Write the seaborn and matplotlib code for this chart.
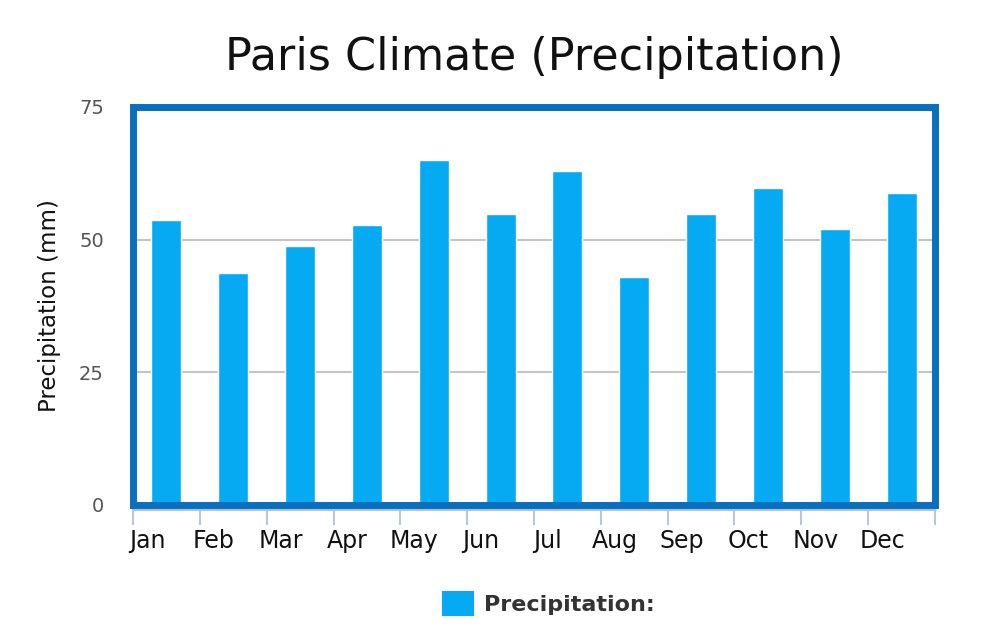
import matplotlib
matplotlib.use("Agg")
import matplotlib.pyplot as plt
import seaborn as sns
import pandas as pd
from matplotlib.patches import Rectangle, Patch

months = ["Jan", "Feb", "Mar", "Apr", "May", "Jun", "Jul", "Aug", "Sep", "Oct", "Nov", "Dec"]
precip = [53.7, 43.7, 48.8, 52.8, 65.0, 54.8, 63.0, 42.9, 54.8, 59.8, 52.0, 58.7]
yticks = [0, 25, 50, 75]

df = pd.DataFrame({"Month": months, "Precipitation": precip})

sns.set_theme(style="white")
plt.rcParams["font.family"] = ["DejaVu Sans"]

fig = plt.figure(figsize=(10, 6.44), dpi=100)
ax = fig.add_axes([0.133, 0.216, 0.802, 0.618])

bar_color = "#05aaf3"
sns.barplot(data=df, x="Month", y="Precipitation", color=bar_color, saturation=1,
            width=0.45, ax=ax, zorder=2)

n = len(months)
ax.set_xlim(-0.5, n - 0.5)
ax.set_ylim(0, 75)
ax.set_yticks(yticks)
ax.set_yticklabels([str(t) for t in yticks], color="#555555", fontsize=14)
ax.tick_params(axis="y", length=0, pad=21)

# gridlines
for t in yticks[1:-1]:
    ax.axhline(t, color="#c4c4c4", lw=1.5, zorder=1)

# spines
for s in ["left", "right", "top"]:
    ax.spines[s].set_visible(False)
ax.spines["bottom"].set_position(("outward", 4))
ax.spines["bottom"].set_color("#a9c4dc")
ax.spines["bottom"].set_linewidth(1.5)

# x ticks at boundaries, labels as minor ticks
ax.set_xticks([i - 0.5 for i in range(n + 1)])
ax.set_xticklabels([""] * (n + 1))
ax.tick_params(axis="x", which="major", length=11, width=1.5, color="#b8c8d8", direction="out", bottom=True)
ax.set_xticks([i - 0.29 for i in range(n)], minor=True)
ax.set_xticklabels(months, minor=True, fontsize=17, color="#111111")
ax.tick_params(axis="x", which="minor", length=0, pad=13)

# box border
ax.add_patch(Rectangle((0, 0), 1, 1, transform=ax.transAxes, fill=False,
                       edgecolor="#0a6fbd", lw=5, clip_on=False, zorder=5))

ax.set_xlabel("")
ax.set_ylabel("Precipitation (mm)", fontsize=16.5, color="#111111", labelpad=13)
ax.set_title("Paris Climate (Precipitation)", fontsize=32, color="#111111", pad=26.5)

fig.legend(handles=[Patch(facecolor=bar_color, edgecolor="none", label="Precipitation:")],
           loc="center", bbox_to_anchor=(0.548, 0.063), frameon=False,
           handlelength=1.44, handleheight=1.3, handletextpad=0.45,
           prop={"weight": "bold", "size": 16}, labelcolor="#333333")

fig.savefig("out.png", dpi=100)
